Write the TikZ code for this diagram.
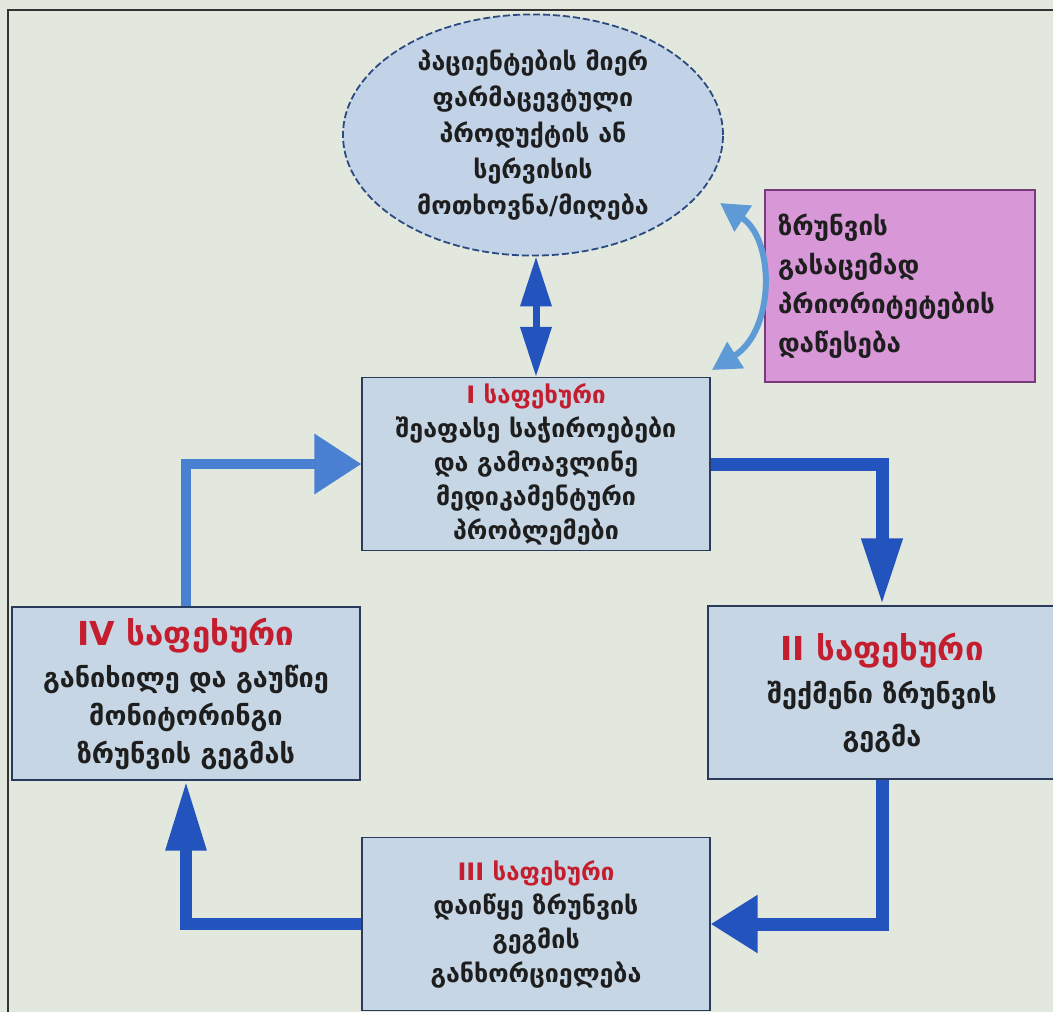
\documentclass[tikz,border=0pt]{standalone}
\usepackage{fontspec}
\usepackage{tikz}
\usetikzlibrary{arrows.meta, shapes.geometric}
\newfontfamily\geofont{DejaVu Sans}
\definecolor{BgGray}{HTML}{E2E8DE}
\definecolor{BoxBlue}{HTML}{C6D6E4}
\definecolor{BoxEdge}{HTML}{2A3A5A}
\definecolor{EllBlue}{HTML}{C2D3E8}
\definecolor{EllEdge}{HTML}{2A4A80}
\definecolor{PinkFill}{HTML}{D898D8}
\definecolor{PinkEdge}{HTML}{7A3A7A}
\definecolor{ArrowBlue}{HTML}{2354BE}
\definecolor{ArrowLight}{HTML}{4A80D2}
\definecolor{CurveBlue}{HTML}{5E9AD6}
\definecolor{TitleRed}{HTML}{C41E2E}
\definecolor{TextDark}{HTML}{1E1E1E}

\begin{document}
\begin{tikzpicture}[
    x=1pt, y=-1pt,
    stage/.style={rectangle, draw=BoxEdge, line width=1.2pt, fill=BoxBlue,
      minimum width=348pt, minimum height=173pt, inner sep=0pt, align=center,
      text=TextDark, font=\geofont\bfseries\fontsize{25}{34}\selectfont},
    request/.style={ellipse, draw=EllEdge, dash pattern=on 7pt off 3pt, line width=1.8pt,
      fill=EllBlue, minimum width=380pt, minimum height=230pt, inner sep=0pt,
      align=center, text=TextDark, font=\geofont\bfseries\fontsize{25}{36}\selectfont},
    priority/.style={rectangle, draw=PinkEdge, line width=1.5pt, fill=PinkFill,
      minimum width=270pt, minimum height=192pt, inner sep=0pt, text width=244pt,
      align=left, text=TextDark, font=\geofont\bfseries\fontsize{26}{39}\selectfont},
    flow/.style={ArrowBlue, line join=miter},
    title/.style={text=TitleRed}
]
  \useasboundingbox (0,0) rectangle (1053,1012);
  \fill[BgGray] (0,0) rectangle (1053,1012);
  \draw[line width=1.5pt, black!80] (8,1030) -- (8,10) -- (1070,10);

  % Request and priorities
  \node[request] (req) at (533,135) {პაციენტების მიერ\\ფარმაცევტული\\პროდუქტის ან\\სერვისის\\მოთხოვნა/მიღება};
  \node[priority] (prio) at (900,286) {ზრუნვის\\გასაცემად\\პრიორიტეტების\\დაწესება};

  % Stages
  \node[stage] (s1) at (536,464) {{\color{TitleRed}\fontsize{24}{34}\selectfont I საფეხური}\\შეაფასე საჭიროებები\\და გამოავლინე\\მედიკამენტური\\პრობლემები};
  \node[stage, font=\geofont\bfseries\fontsize{27}{43}\selectfont] (s2) at (882,692.5) {{\color{TitleRed}\fontsize{33}{40}\selectfont II საფეხური}\\შექმენი ზრუნვის\\გეგმა};
  \node[stage] (s3) at (536,924) {{\color{TitleRed}\fontsize{24}{34}\selectfont III საფეხური}\\დაიწყე ზრუნვის\\გეგმის\\განხორციელება};
  \node[stage, font=\geofont\bfseries\fontsize{27}{38}\selectfont] (s4) at (186,693.5) {{\color{TitleRed}\fontsize{33}{40}\selectfont IV საფეხური}\\[4pt]განიხილე და გაუწიე\\მონიტორინგი\\ზრუნვის გეგმას};

  % Cycle arrows
  \draw[flow, line width=13pt, -{Triangle[length=67pt,width=38pt]}] (s1.east) -| (s2.north);
  \draw[flow, line width=13pt, -{Triangle[length=47pt,width=55pt]}] (s2.south) |- (s3.east);
  \draw[flow, line width=12pt, -{Triangle[length=70pt,width=38pt]}] (s3.west) -| (s4.south);
  \draw[flow, ArrowLight, line width=10pt, -{Triangle[length=47pt,width=58pt]}] (s4.north) |- (s1.west);

  % Request <-> stage I
  \draw[flow, line width=7pt, {Triangle[length=50pt,width=30pt]}-{Triangle[length=50pt,width=30pt]}]
    (s1.north |- req.south) -- (s1.north);

  % Priorities loop
  \coordinate (c1) at (720,203);
  \coordinate (c2) at (712,370);
  \draw[CurveBlue, line width=6pt, {Triangle[length=28pt,width=30pt]}-{Triangle[length=28pt,width=30pt]}]
    (c1) .. controls (775,240) and (775,330) .. (c2);
\end{tikzpicture}
\end{document}
